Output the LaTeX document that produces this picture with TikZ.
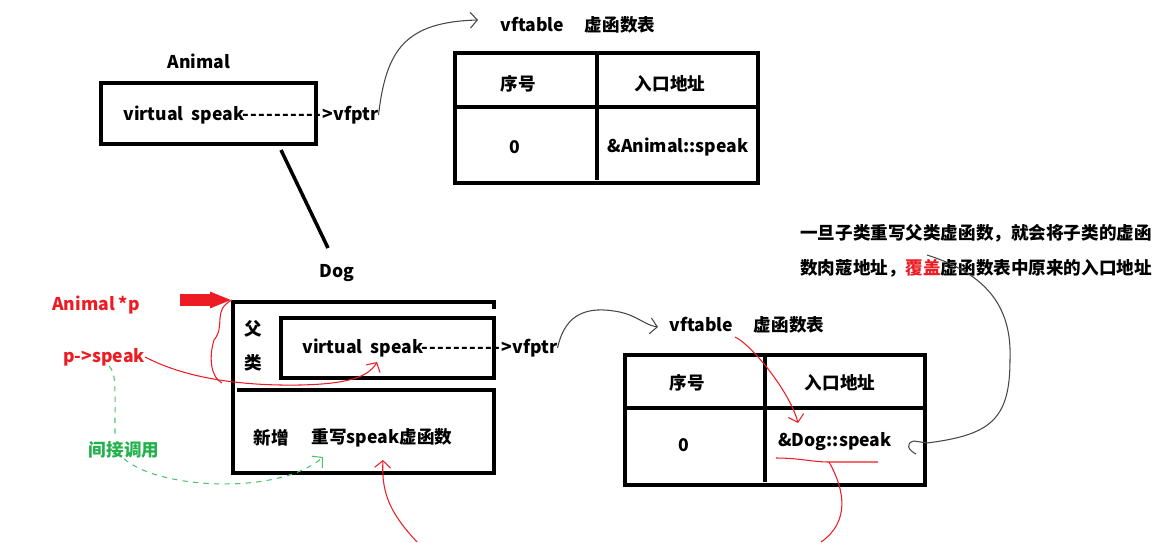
\documentclass[tikz,border=0pt]{standalone}
\usepackage{fontspec}
\newfontfamily\yahei{Noto Sans CJK SC}
\usetikzlibrary{arrows.meta}
\definecolor{penred}{RGB}{237,28,36}
\definecolor{pengreen}{RGB}{34,177,76}
\definecolor{pengray}{RGB}{70,70,70}
\newcommand{\dashrun}{\foreach \i in {1,...,10}{-\kern0.75pt}}

\begin{document}
\begin{tikzpicture}[x=0.02cm, y=-0.02cm]
            \tikzstyle{every node}=[inner sep=0pt, font=\yahei\bfseries\fontsize{10}{12}\selectfont, text=black]
            \tikzstyle{frame}=[black, line width=0.08cm]
            \tikzstyle{pen}=[pengray, line width=0.6pt]
            \tikzstyle{barb}=[-{Straight Barb[length=4pt, width=9pt]}]

            \useasboundingbox (0,0) rectangle (1171,542);

            % Animal
            \node (animal) at (199,61) {Animal};
            \draw[frame] (101,83) rectangle (316,144);
            \node[anchor=west] (aspeak) at (123,115) {virtual\ \ speak\dashrun>vfptr};
            \coordinate (inhtop) at (281,150);
            \coordinate (inhbot) at (328,248);
            \draw[black, line width=0.07cm] (inhtop) -- (inhbot);

            % vftable of Animal
            \node[anchor=west] (vtanimal) at (500,25) {vftable\hspace{0.42cm}虚函数表};
            \draw[frame] (455,53) rectangle (758,183);
            \draw[frame] (455,107) -- (758,107);
            \draw[frame] (597,53) -- (597,180);
            \node (noA) at (518,84) {序号};
            \node (addrA) at (670,84) {入口地址};
            \node (zeroA) at (515,147) {0};
            \node (entryA) at (678,147) {\&Animal::speak};
            \coordinate (tipA) at (478,20);
            \draw[pen, barb] (aspeak.east) .. controls (386,50) and (405,22) .. (tipA);

            % Dog
            \node (dog) at (337,273) {Dog};
            \draw[frame] (494,309) -- (494,302) -- (233,302) -- (233,473) -- (494,473) -- (494,390) -- (237,390);
            \draw[frame] (281,318) rectangle (494,378);
            \node (fu) at (253,329) {父};
            \node (lei) at (253,363) {类};
            \node[anchor=west] (dspeak) at (302,348) {virtual\ \ speak\dashrun>vfptr};
            \node (xinzeng) at (271,438) {新增};
            \node (rewrite) at (382,438) {重写speak虚函数};

            % vftable of Dog
            \node[anchor=west] (vtdog) at (669,325) {vftable\hspace{0.42cm}虚函数表};
            \draw[frame] (625,355) rectangle (925,485);
            \draw[frame] (625,408) -- (925,408);
            \draw[frame] (765,355) -- (765,482);
            \node (noD) at (687,383) {序号};
            \node (addrD) at (840,383) {入口地址};
            \node (zeroD) at (684,445) {0};
            \node (entryD) at (835,442) {\&Dog::speak};
            \coordinate (tipD) at (658,327);
            \draw[pen, barb] (dspeak.east) .. controls (564,318) and (582,306) .. (614,311) .. controls (636,314) and (644,325) .. (tipD);

            % note
            \node[anchor=west] (note1) at (800,233) {一旦子类重写父类虚函数，就会将子类的虚函};
            \node[anchor=west] (note2) at (800,268) {数肉蔻地址，{\color{penred}覆盖}虚函数表中原来的入口地址};
            \coordinate (notefrom) at (927,255);
            \coordinate (noteto) at (927,443);
            \draw[pen] (notefrom) .. controls (990,275) and (1012,310) .. (1010,360) .. controls (1010,420) and (990,435) .. (noteto);
            \draw[pen] (noteto) -- (914,441) .. controls (905,443) and (908,450) .. (916,454);

            % pointer p
            \node[text=penred] (animalp) at (96,305) {Animal *p};
            \node[text=penred] (pspeak) at (104,357) {p->speak};
            \node[text=pengreen] (indirect) at (124,450) {间接调用};
            \coordinate (fatfrom) at (180,300);
            \coordinate (fatto) at (232,300);
            \draw[penred, line width=0.24cm, -{Triangle[length=0.44cm, width=0.3cm]}] (fatfrom) -- (fatto);

            % red strokes
            \coordinate (vsp) at (377,362);
            \coordinate (merge) at (222,383);
            \draw[penred, line width=0.6pt] (fatto) .. controls (212,310) and (226,326) .. (214,340) .. controls (208,360) and (212,378) .. (merge);
            \draw[penred, line width=0.6pt, barb] (pspeak.east) .. controls (185,378) and (240,386) .. (300,385) .. controls (345,384) and (368,378) .. (vsp);
            \coordinate (rbot) at (417,542);
            \coordinate (rtip) at (383,460);
            \draw[penred, line width=0.6pt, barb] (rbot) .. controls (392,515) and (381,495) .. (rtip);
            \coordinate (vtfrom) at (735,337);
            \coordinate (vtto) at (798,423);
            \draw[penred, line width=0.6pt, barb] (vtfrom) .. controls (752,345) and (790,392) .. (vtto);
            \coordinate (ulA) at (776,458);
            \coordinate (ulB) at (829,462);
            \coordinate (ulC) at (878,462);
            \coordinate (ulD) at (821,542);
            \draw[penred, line width=0.6pt] (ulA) .. controls (800,458) and (812,462) .. (ulB) -- (ulC);
            \draw[penred, line width=0.6pt] (ulB) .. controls (845,490) and (850,522) .. (ulD);

            % green dashed call
            \coordinate (gtip) at (323,457);
            \draw[pengreen!80, line width=0.6pt, dashed] (pspeak.-60) .. controls (116,374) and (115,382) .. (115,434);
            \draw[pengreen!80, line width=0.6pt, dashed, barb] (indirect.south) .. controls (160,490) and (280,495) .. (gtip);
        \end{tikzpicture}
\end{document}
